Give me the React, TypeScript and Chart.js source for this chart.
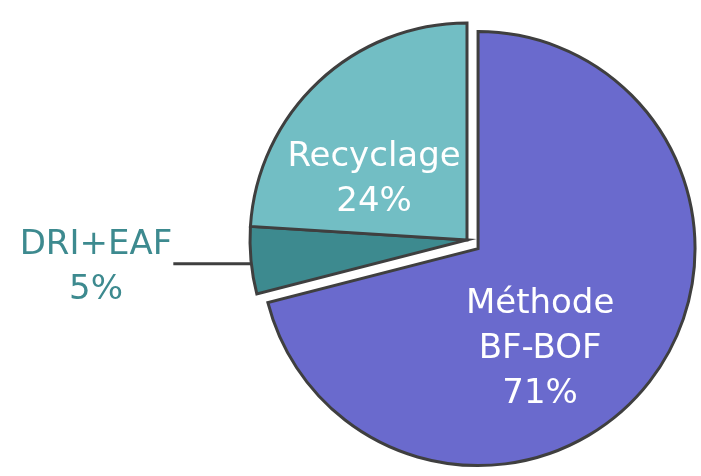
import React, { useEffect, useRef } from "react";
import { Chart, registerables } from "chart.js";

Chart.register(...registerables);

// ---- data ----
const categories = ["Méthode BF-BOF", "DRI+EAF", "Recyclage"];
const labelLines = [["Méthode", "BF-BOF"], ["DRI+EAF"], ["Recyclage"]];
const values = [71, 5, 24];
const percentLabels = ["71%", "5%", "24%"];

// ---- style ----
const colors = ["#6A6ACD", "#3D8A8F", "#72BEC4"];
const borderColor = "#3F3F3F";
const explode = [14, 0, 0];
const labelOutside = [false, true, false];
const labelAngleFrac = [0.577, 0.45, 0.358];
const labelRadiusFrac = [0.532, 1, 0.52];
const labelColors = ["#FFFFFF", "#3D8A8F", "#FFFFFF"];
const fontSize = 34;
const lineHeight = 45;
const leaderLength = 78;
const fontFamily = '"DejaVu Sans", sans-serif';

const explodePlugin = {
  id: "explodeSlices",
  afterDatasetsUpdate(chart: any) {
    const meta = chart.getDatasetMeta(0);
    meta.data.forEach((arc: any, i: number) => {
      const d = explode[i];
      if (!d) return;
      const mid = (arc.startAngle + arc.endAngle) / 2;
      arc.x += Math.cos(mid) * d;
      arc.y += Math.sin(mid) * d;
    });
  },
};

const labelPlugin = {
  id: "sliceLabels",
  afterDatasetsDraw(chart: any) {
    const ctx = chart.ctx as CanvasRenderingContext2D;
    const meta = chart.getDatasetMeta(0);
    ctx.save();
    ctx.font = `${fontSize}px ${fontFamily}`;
    ctx.textAlign = "center";
    ctx.textBaseline = "alphabetic";
    const capH = fontSize * 0.73;
    meta.data.forEach((arc: any, i: number) => {
      const lines = [...labelLines[i], percentLabels[i]];
      const a = arc.startAngle + labelAngleFrac[i] * (arc.endAngle - arc.startAngle);
      const r = labelRadiusFrac[i] * arc.outerRadius;
      let cx = arc.x + Math.cos(a) * r;
      const cy = arc.y + Math.sin(a) * r;
      if (labelOutside[i]) {
        const endX = cx - leaderLength;
        ctx.strokeStyle = borderColor;
        ctx.lineWidth = 3;
        ctx.beginPath();
        ctx.moveTo(cx, cy);
        ctx.lineTo(endX, cy);
        ctx.stroke();
        const maxW = Math.max(...lines.map((l) => ctx.measureText(l).width));
        cx = endX - 1 - maxW / 2;
      }
      ctx.fillStyle = labelColors[i];
      const first = cy - ((lines.length - 1) * lineHeight + capH) / 2 + capH;
      lines.forEach((l, k) => ctx.fillText(l, cx, first + k * lineHeight));
    });
    ctx.restore();
  },
};

export default function App() {
  const ref = useRef<HTMLCanvasElement | null>(null);
  useEffect(() => {
    if (!ref.current) return;
    const chart = new Chart(ref.current, {
      type: "pie",
      data: {
        labels: categories,
        datasets: [
          {
            data: values,
            backgroundColor: colors,
            borderColor: borderColor,
            borderWidth: 3,
            borderJoinStyle: "miter",
          } as any,
        ],
      },
      options: {
        animation: false,
        responsive: true,
        maintainAspectRatio: false,
        events: [],
        layout: { padding: { left: 248.5, right: 15.5, top: 21.5, bottom: 17.5 } },
        plugins: { legend: { display: false }, tooltip: { enabled: false } },
      },
      plugins: [explodePlugin, labelPlugin],
    });
    return () => chart.destroy();
  }, []);
  return (
    <div style={{ position: "absolute", left: 0, top: 0, width: 701, height: 476, background: "#fff" }}>
      <canvas ref={ref} />
    </div>
  );
}
